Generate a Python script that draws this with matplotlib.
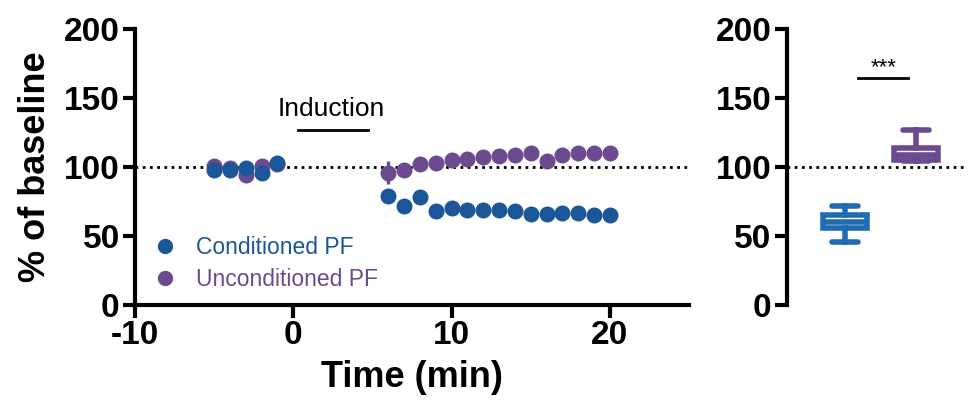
import matplotlib
matplotlib.use('Agg')
import matplotlib.pyplot as plt
from matplotlib.lines import Line2D
import numpy as np

plt.rcParams['font.family'] = ['Liberation Sans', 'DejaVu Sans']
plt.rcParams['axes.unicode_minus'] = False

# time course (min) and % of baseline
t_pre = [-5, -4, -3, -2, -1]
t_post = [6, 7, 8, 9, 10, 11, 12, 13, 14, 15, 16, 17, 18, 19, 20]
time = t_pre + t_post

cond = [98, 98, 99, 96, 103,
        79, 72, 78, 68, 70, 69, 69, 69, 68, 66, 66, 67, 67, 65, 65]
cond_err = [2, 2, 2, 2, 2,
            5, 3, 5, 2, 2, 2, 2, 2, 2, 2, 2, 2, 2, 2, 2]
uncond = [101, 99, 94, 101, 102,
          96, 98, 102, 103, 105, 106, 107, 108, 109, 110, 104, 109, 110, 110, 110]
uncond_err = [2, 2, 2, 2, 2,
              8, 5, 5, 3, 4, 4, 3, 3, 4, 5, 3, 4, 5, 5, 5]

# box plot summary (whislo, q1, med, q3, whishi)
box_labels = ['Conditioned PF', 'Unconditioned PF']
box_stats = [[46, 56, 60, 65, 72],
             [104, 105, 109, 113.5, 127]]

c_blue = '#1b5699'
c_purple = '#6b4a8f'
box_blue = '#1f6cb5'
box_purple = '#6b4a90'

fig = plt.figure(figsize=(9.7, 4.05), dpi=100)
ax = fig.add_axes([0.1392, 0.2469, 0.5711, 0.6815])
ax2 = fig.add_axes([0.8113, 0.2469, 0.1835, 0.6815])

dot = (0, (1, 1.6))

# left panel
ax.axhline(100, color='black', lw=2, ls=dot, zorder=1)
ax.errorbar(time, cond, yerr=cond_err, fmt='o', color=c_blue, ms=10.5,
            elinewidth=2.5, capsize=0, zorder=3)
ax.errorbar(time, uncond, yerr=uncond_err, fmt='o', color=c_purple, ms=10.5,
            elinewidth=2.5, capsize=0, zorder=2)

ax.set_xlim(-10, 25)
ax.set_ylim(0, 200)
ax.set_xticks([-10, 0, 10, 20])
ax.set_yticks([0, 50, 100, 150, 200])
ax.set_xlabel('Time (min)', fontsize=26, fontweight='bold', labelpad=6)
ax.set_ylabel('% of baseline', fontsize=26, fontweight='bold', labelpad=8)

ax.text(2.4, 142, 'Induction', fontsize=19, ha='center', va='center')
ax.plot([0.3, 4.7], [127, 127], color='black', lw=2)

handles = [Line2D([], [], ls='none', marker='o', ms=10, color=c_blue),
           Line2D([], [], ls='none', marker='o', ms=10, color=c_purple)]
ax.legend(handles, box_labels, loc='lower left', bbox_to_anchor=(0.013, 0.01),
          frameon=False, fontsize=16.5, handlelength=1.0, handletextpad=0.85,
          borderpad=0, labelspacing=0.4, labelcolor=[c_blue, c_purple])

# right panel
ax2.axhline(100, color='black', lw=2, ls=dot, zorder=1)
stats = []
for lab, s in zip(box_labels, box_stats):
    stats.append(dict(label=lab, whislo=s[0], q1=s[1], med=s[2],
                      q3=s[3], whishi=s[4]))
bp = ax2.bxp(stats, positions=[1, 2], widths=0.62, showfliers=False,
             patch_artist=True, capwidths=0.37)
for i, col in enumerate([box_blue, box_purple]):
    bp['boxes'][i].set(facecolor='white', edgecolor=col, linewidth=4)
    bp['medians'][i].set(color=col, linewidth=4)
    for k in (2 * i, 2 * i + 1):
        bp['whiskers'][k].set(color=col, linewidth=4)
        bp['caps'][k].set(color=col, linewidth=4, solid_capstyle='round')
ax2.plot([1.18, 1.89], [164.5, 164.5], color='black', lw=2)
ax2.text(1.54, 172, '***', fontsize=16, ha='center', va='center')

ax2.set_xlim(0.18, 2.69)
ax2.set_ylim(0, 200)
ax2.set_yticks([0, 50, 100, 150, 200])
ax2.set_xticks([])
ax2.spines['bottom'].set_visible(False)

for a in (ax, ax2):
    a.spines['top'].set_visible(False)
    a.spines['right'].set_visible(False)
    a.spines['left'].set_linewidth(3)
    a.spines['bottom'].set_linewidth(3)
    a.tick_params(width=3, length=9, labelsize=24, pad=2)
    for lbl in a.get_xticklabels() + a.get_yticklabels():
        lbl.set_fontweight('bold')

fig.savefig('out.png', dpi=100)
